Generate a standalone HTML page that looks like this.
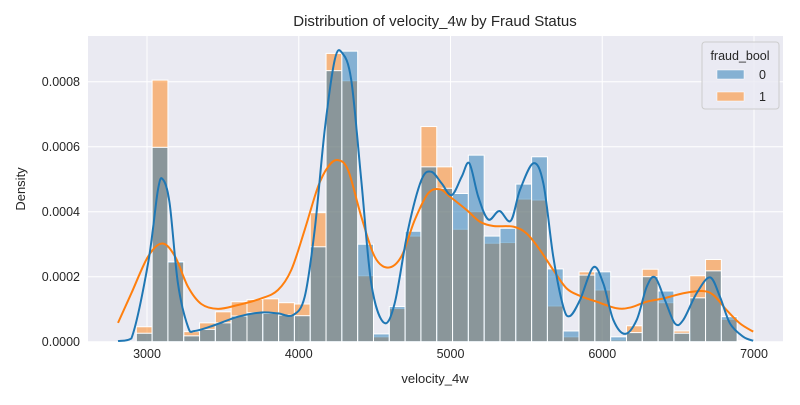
<!DOCTYPE html>
<html><head><meta charset="utf-8"><style>
body{margin:0;background:#fff;}
svg text{font-family:"Liberation Sans",Arial,sans-serif;fill:#262626;}
</style></head><body>
<svg id="chart" width="800" height="400">
<defs><clipPath id="pc"><rect x="88" y="36" width="695" height="306"/></clipPath></defs>
<rect x="0" y="0" width="800" height="400" fill="#fff"/>
<rect x="88" y="36" width="695" height="306" fill="#eaeaf2"/>
<g id="grid"></g><g id="bars"></g><g id="lines" clip-path="url(#pc)"></g><g id="ticks"></g>
<text x="435" y="26" text-anchor="middle" font-size="15">Distribution of velocity_4w by Fraud Status</text>
<text x="435" y="383" text-anchor="middle" font-size="13">velocity_4w</text>
<text x="0" y="0" transform="translate(25,189) rotate(-90)" text-anchor="middle" font-size="13">Density</text>
<g>
<rect x="702" y="42" width="77" height="67" rx="3" fill="#eaeaf2" fill-opacity="0.8" stroke="#ccc"/>
<text x="740" y="60" text-anchor="middle" font-size="12.5">fraud_bool</text>
<rect x="717" y="70" width="27" height="9" fill="rgba(31,119,180,0.5)" stroke="#fff" stroke-width="0.5"/>
<text x="759" y="79" font-size="12.5">0</text>
<rect x="717" y="92" width="27" height="9" fill="rgba(255,127,14,0.5)" stroke="#fff" stroke-width="0.5"/>
<text x="759" y="101" font-size="12.5">1</text>
</g>
</svg>
<script>
const binStart = 2929.5, binWidth = 104.2;
const blueBars = [0.000026,0.000598,0.000246,0.000018,0.000038,0.000058,0.000079,0.000089,0.000087,0.000082,0.00008,0.000292,0.000834,0.000894,0.0003,0.000024,0.000108,0.00034,0.000538,0.000472,0.000456,0.000574,0.000325,0.000349,0.000485,0.000569,0.000224,0.000033,0.000205,0.000215,0.000015,0.000028,0.0002,0.000156,0.000026,0.000135,0.000218,0.000077,0.000003];
const orangeBars = [0.000046,0.000805,0.000244,0.000031,0.000058,0.000092,0.000123,0.00013,0.000132,0.00012,0.000116,0.000397,0.000887,0.000803,0.000203,0.000015,0.000102,0.000325,0.000662,0.000538,0.000346,0.0004,0.000303,0.000305,0.000439,0.000436,0.00011,0.000015,0.000215,0.000159,0.000005,0.000049,0.000223,0.00012,0.000033,0.000203,0.000253,0.000069,0];
const blueKdeX = [2809,2897,3007,3072,3105,3149,3204,3270,3314,3446,3600,3753,3863,3962,4039,4105,4171,4237,4285,4346,4412,4478,4560,4632,4720,4808,4873,4942,5008,5074,5124,5183,5249,5322,5397,5458,5546,5612,5677,5743,5787,5853,5941,6007,6073,6150,6227,6293,6348,6413,6479,6534,6622,6710,6776,6842,6930,6995];
const blueKdeY = [0.000002,0.00001,0.000241,0.000467,0.000499,0.000426,0.000179,0.000046,0.000033,0.000051,0.000077,0.00009,0.000087,0.000082,0.000138,0.000344,0.000651,0.000867,0.000889,0.000805,0.000497,0.000179,0.000059,0.000118,0.000344,0.000497,0.000523,0.000487,0.000451,0.000508,0.000549,0.000446,0.000376,0.000402,0.000372,0.000467,0.000549,0.000487,0.000262,0.000108,0.000079,0.000128,0.000229,0.000179,0.000067,0.000024,0.000067,0.000169,0.000198,0.000128,0.000056,0.000067,0.000149,0.000198,0.000138,0.000056,0.000015,0.000003];
const orangeKdeX = [2809,2897,3007,3101,3185,3270,3358,3468,3600,3753,3863,3951,4039,4127,4193,4255,4325,4412,4500,4588,4676,4764,4852,4931,4997,5107,5194,5282,5414,5502,5590,5677,5765,5853,5963,6095,6183,6293,6402,6534,6655,6732,6820,6908,6995];
const orangeKdeY = [0.000058,0.000149,0.000262,0.000302,0.000262,0.000169,0.000116,0.000101,0.000113,0.000133,0.000159,0.000221,0.000344,0.000477,0.000538,0.000559,0.000528,0.000385,0.000262,0.000228,0.000262,0.000374,0.000456,0.000469,0.000446,0.000405,0.000369,0.000356,0.000354,0.000333,0.000282,0.000221,0.000164,0.000141,0.000123,0.000103,0.000105,0.000123,0.000133,0.000149,0.000156,0.000144,0.000097,0.000056,0.000031];
const xTicks = [3000,4000,5000,6000,7000];
const yTicks = [0,0.0002,0.0004,0.0006,0.0008];

const NS="http://www.w3.org/2000/svg";
const xs = v => 147 + (v-3000)*0.15175;
const ys = v => 341.7 - v*325000;
function mk(tag, attrs, parent){const e=document.createElementNS(NS,tag);for(const k in attrs)e.setAttribute(k,attrs[k]);document.getElementById(parent).appendChild(e);return e;}
xTicks.forEach(t=>{
  const l=mk('line',{x1:xs(t),x2:xs(t),y1:36,y2:342,stroke:'#fff','stroke-width':1},'grid');
  
  
  const tx=mk('text',{x:xs(t),y:358,'text-anchor':'middle','font-size':12.5},'ticks');tx.textContent=t;
  
  
});
yTicks.forEach(t=>{
  const l=mk('line',{x1:88,x2:783,y1:ys(t),y2:ys(t),stroke:'#fff','stroke-width':1},'grid');
  
  
  const tx=mk('text',{x:80,y:ys(t)+4.5,'text-anchor':'end','font-size':12.5},'ticks');tx.textContent=t.toFixed(4);
  
  
});
function drawBars(arr,color,name){
  arr.forEach((v,i)=>{
    const x0=xs(binStart+i*binWidth), x1=xs(binStart+(i+1)*binWidth);
    const r=mk('rect',{x:x0,y:ys(v),width:x1-x0,height:Math.max(0,ys(0)-ys(v)),fill:color,stroke:'#fff','stroke-width':1},'bars');
    
    
  });
}
drawBars(orangeBars,'rgba(255,127,14,0.5)','bar-fraud-1');
drawBars(blueBars,'rgba(31,119,180,0.5)','bar-fraud-0');
function smooth(X,Y){
  const p=X.map((x,i)=>[xs(x),ys(Y[i])]);
  const base=ys(0);
  let d=`M${p[0][0]},${p[0][1]}`;
  for(let i=0;i<p.length-1;i++){
    const p0=p[Math.max(0,i-1)],p1=p[i],p2=p[i+1],p3=p[Math.min(p.length-1,i+2)];
    const c1=[p1[0]+(p2[0]-p0[0])/6,Math.min(base,p1[1]+(p2[1]-p0[1])/6)];
    const c2=[p2[0]-(p3[0]-p1[0])/6,Math.min(base,p2[1]-(p3[1]-p1[1])/6)];
    d+=`C${c1[0]},${c1[1]} ${c2[0]},${c2[1]} ${p2[0]},${p2[1]}`;
  }
  return d;
}
const lo=mk('path',{d:smooth(orangeKdeX,orangeKdeY),fill:'none',stroke:'#ff7f0e','stroke-width':2},'lines');


const lb=mk('path',{d:smooth(blueKdeX,blueKdeY),fill:'none',stroke:'#1f77b4','stroke-width':2},'lines');


</script>
</body></html>
